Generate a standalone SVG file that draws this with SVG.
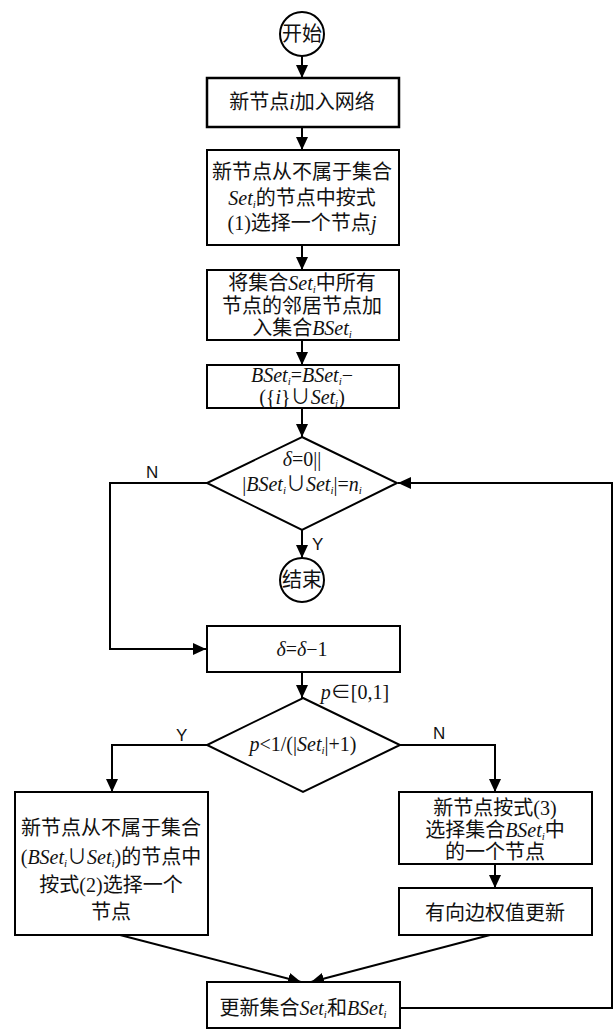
<svg xmlns="http://www.w3.org/2000/svg" width="614" height="1029" viewBox="0 0 614 1029">
<style>
.b{fill:#fff;stroke:#000;stroke-width:2}
.t{font-family:"Liberation Serif","Noto Sans CJK SC",serif;font-size:20px;fill:#111;text-anchor:middle}
.v{font-style:italic}
.s{font-size:11px}
.l{font-family:"Liberation Sans",sans-serif;font-size:17px;fill:#111}
.c{fill:none;stroke:#000;stroke-width:2}
</style>
<defs>
<marker id="a" markerUnits="userSpaceOnUse" markerWidth="14" markerHeight="12" refX="13" refY="6" orient="auto">
<path d="M0,0 L13,6 L0,12 Z" fill="#000"/>
</marker>
</defs>
<rect width="614" height="1029" fill="#fff"/>
<g id="connectors">
<line class="c" x1="302" y1="56" x2="302" y2="78" marker-end="url(#a)"/>
<line class="c" x1="302" y1="127" x2="302" y2="150" marker-end="url(#a)"/>
<line class="c" x1="302" y1="245" x2="302" y2="270" marker-end="url(#a)"/>
<line class="c" x1="302" y1="340" x2="302" y2="365" marker-end="url(#a)"/>
<line class="c" x1="302" y1="408" x2="302" y2="437" marker-end="url(#a)"/>
<line class="c" x1="302" y1="530" x2="302" y2="558" marker-end="url(#a)"/>
<polyline class="c" points="207,483 110,483 110,649 206,649" marker-end="url(#a)"/>
<line class="c" x1="302" y1="672" x2="302" y2="698" marker-end="url(#a)"/>
<polyline class="c" points="207,745 112,745 112,792" marker-end="url(#a)"/>
<polyline class="c" points="400,745 495,745 495,792" marker-end="url(#a)"/>
<line class="c" x1="495" y1="864" x2="495" y2="888" marker-end="url(#a)"/>
<line class="c" x1="120" y1="935" x2="301" y2="982" marker-end="url(#a)"/>
<line class="c" x1="490" y1="935" x2="311" y2="982" marker-end="url(#a)"/>
<polyline class="c" points="400,1008 612,1008 612,483 398,483" marker-end="url(#a)"/>
<text class="l" x="146" y="478">N</text>
<text class="l" x="312" y="550">Y</text>
<text class="l" x="176" y="741">Y</text>
<text class="l" x="433" y="739">N</text>
<text class="t" x="355" y="699"><tspan class="v">p</tspan>∈[0,1]</text>
</g>
<g id="start">
<circle class="b" cx="302" cy="34" r="22"/>
<text class="t" x="302" y="41">开始</text>
</g>
<g id="n1">
<rect class="b" x="207" y="78" width="192" height="49" style="stroke-width:2.5"/>
<text class="t" x="302" y="109">新节点<tspan class="v">i</tspan>加入网络</text>
</g>
<g id="n2">
<rect class="b" x="207" y="150" width="192" height="95"/>
<text class="t" x="302" y="179">新节点从不属于集合</text>
<text class="t" x="302" y="205"><tspan class="v">Set</tspan><tspan class="s v" dy="3">i</tspan><tspan dy="-3">的节点中按式</tspan></text>
<text class="t" x="302" y="230">(1)选择一个节点<tspan class="v">j</tspan></text>
</g>
<g id="n3">
<rect class="b" x="207" y="270" width="192" height="70"/>
<text class="t" x="302" y="290">将集合<tspan class="v">Set</tspan><tspan class="s v" dy="3">i</tspan><tspan dy="-3">中所有</tspan></text>
<text class="t" x="302" y="313">节点的邻居节点加</text>
<text class="t" x="302" y="335">入集合<tspan class="v">BSet</tspan><tspan class="s v" dy="3">i</tspan></text>
</g>
<g id="n4">
<rect class="b" x="207" y="365" width="192" height="43"/>
<text class="t" x="302" y="382"><tspan class="v">BSet</tspan><tspan class="s v" dy="3">i</tspan><tspan dy="-3">=</tspan><tspan class="v">BSet</tspan><tspan class="s v" dy="3">i</tspan><tspan dy="-3">−</tspan></text>
<text class="t" x="302" y="404">({<tspan class="v">i</tspan>}∪<tspan class="v">Set</tspan><tspan class="s v" dy="3">i</tspan><tspan dy="-3">)</tspan></text>
</g>
<g id="d1">
<polygon class="b" points="302,437 397,483 302,530 207,483"/>
<text class="t" x="302" y="466"><tspan class="v">δ</tspan>=0||</text>
<text class="t" x="302" y="491">|<tspan class="v">BSet</tspan><tspan class="s v" dy="3">i</tspan><tspan dy="-3">∪</tspan><tspan class="v">Set</tspan><tspan class="s v" dy="3">i</tspan><tspan dy="-3">|=</tspan><tspan class="v">n</tspan><tspan class="s v" dy="3">i</tspan></text>
</g>
<g id="end">
<circle class="b" cx="302" cy="580" r="22"/>
<text class="t" x="302" y="587">结束</text>
</g>
<g id="n5">
<rect class="b" x="207" y="626" width="193" height="46"/>
<text class="t" x="302" y="656"><tspan class="v">δ</tspan>=<tspan class="v">δ</tspan>−1</text>
</g>
<g id="d2">
<polygon class="b" points="303,698 400,745 303,792 207,745"/>
<text class="t" x="303" y="751"><tspan class="v">p</tspan>&lt;1/(|<tspan class="v">Set</tspan><tspan class="s v" dy="3">i</tspan><tspan dy="-3">|+1)</tspan></text>
</g>
<g id="n6">
<rect class="b" x="15" y="792" width="193" height="143"/>
<text class="t" x="111" y="835">新节点从不属于集合</text>
<text class="t" x="111" y="864">(<tspan class="v">BSet</tspan><tspan class="s v" dy="3">i</tspan><tspan dy="-3">∪</tspan><tspan class="v">Set</tspan><tspan class="s v" dy="3">i</tspan><tspan dy="-3">)的节点中</tspan></text>
<text class="t" x="111" y="892">按式(2)选择一个</text>
<text class="t" x="111" y="919">节点</text>
</g>
<g id="n7">
<rect class="b" x="399" y="792" width="193" height="72"/>
<text class="t" x="495" y="815">新节点按式(3)</text>
<text class="t" x="495" y="837">选择集合<tspan class="v">BSet</tspan><tspan class="s v" dy="3">i</tspan><tspan dy="-3">中</tspan></text>
<text class="t" x="495" y="859">的一个节点</text>
</g>
<g id="n8">
<rect class="b" x="399" y="888" width="193" height="47"/>
<text class="t" x="495" y="920">有向边权值更新</text>
</g>
<g id="n9">
<rect class="b" x="207" y="982" width="193" height="46"/>
<text class="t" x="303" y="1015">更新集合<tspan class="v">Set</tspan><tspan class="s v" dy="3">i</tspan><tspan dy="-3">和</tspan><tspan class="v">BSet</tspan><tspan class="s v" dy="3">i</tspan></text>
</g>
</svg>
